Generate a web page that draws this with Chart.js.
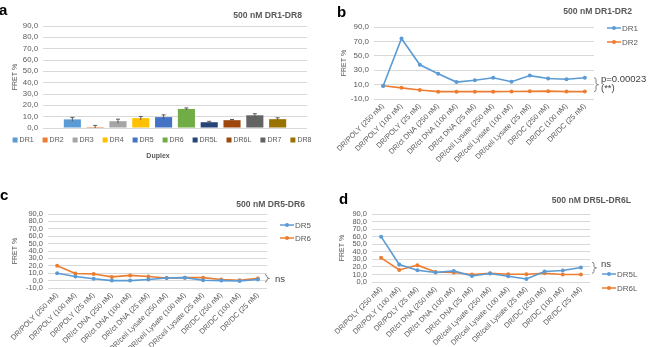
<!DOCTYPE html>
<html>
<head>
<meta charset="utf-8">
<script src="https://cdn.jsdelivr.net/npm/chart.js@4.4.0/dist/chart.umd.min.js"></script>
<style>
  body { margin: 0; background: #fff; font-family: "Liberation Sans", Arial, sans-serif; }
  #wrap { position: relative; width: 648px; height: 347px; overflow: hidden; }
  canvas { position: absolute; }
  .letter { position: absolute; font-weight: bold; font-size: 15px; line-height: 1; color: #000; }
  .title { position: absolute; font-weight: bold; font-size: 8.6px; line-height: 1; color: #595959; white-space: nowrap; }
  .note { position: absolute; font-size: 9.5px; line-height: 1; color: #404040; white-space: nowrap; }
</style>
</head>
<body>
<div id="wrap">
  <canvas id="chartA" width="324" height="175" style="left:0;top:0"></canvas>
  <canvas id="chartB" width="324" height="175" style="left:324px;top:0"></canvas>
  <canvas id="chartC" width="324" height="172" style="left:0;top:175px"></canvas>
  <canvas id="chartD" width="324" height="172" style="left:324px;top:175px"></canvas>

  <div class="letter" style="left:-1px;top:2px">a</div>
  <div class="letter" style="left:337px;top:4px">b</div>
  <div class="letter" style="left:0;top:187px">c</div>
  <div class="letter" style="left:339px;top:191px">d</div>

  <div class="title" style="right:346px;top:11px">500 nM DR1-DR8</div>
  <div class="title" style="right:16px;top:7px">500 nM DR1-DR2</div>
  <div class="title" style="right:343px;top:200px">500 nM DR5-DR6</div>
  <div class="title" style="right:17px;top:196px">500 nM DR5L-DR6L</div>

  <div class="title" style="left:128px;width:60px;text-align:center;top:152px;font-size:7px">Duplex</div>

  <div class="note" style="left:601px;top:74px">p=0.00023</div>
  <div class="note" style="left:601px;top:83px">(**)</div>
  <div class="note" style="left:275px;top:274px">ns</div>
  <div class="note" style="left:601px;top:259px">ns</div>
</div>

<script>
// panel a : FRET % of each duplex
const duplexNames = ["DR1", "DR2", "DR3", "DR4", "DR5", "DR6", "DR5L", "DR6L", "DR7", "DR8"];
const duplexFret = [7.6, 0.9, 6.0, 8.7, 9.6, 16.8, 5.1, 6.9, 11.2, 7.8];
const duplexErr = [1.8, 1.4, 1.8, 1.5, 2.0, 0.9, 0.8, 0.6, 1.4, 1.2];
const duplexColors = ["#5B9BD5", "#ED7D31", "#A5A5A5", "#FFC000", "#4472C4", "#70AD47", "#264478", "#9E480E", "#636363", "#997300"];

// categories of panels b, c, d
const conditions = [
  "DR/POLY (250 nM)", "DR/POLY (100 nM)", "DR/POLY (25 nM)",
  "DR/ct DNA (250 nM)", "DR/ct DNA (100 nM)", "DR/ct DNA (25 nM)",
  "DR/cell Lysate (250 nM)", "DR/cell Lysate (100 nM)", "DR/cell Lysate (25 nM)",
  "DR/DC (250 nM)", "DR/DC (100 nM)", "DR/DC (25 nM)"
];

// panel b
const fretDR1 = [8.0, 74.0, 37.5, 25.0, 13.5, 16.0, 19.5, 14.0, 22.5, 18.5, 17.5, 19.5];
const fretDR2 = [8.5, 5.5, 2.5, 0.2, 0.2, 0.2, 0.2, 0.4, 0.6, 0.9, 0.3, 0.3];
const bracketB = [19.5, 0.3];

// panel c
const fretDR5 = [10.0, 5.5, 2.5, 0.0, 0.0, 1.5, 3.5, 4.0, 0.5, 0.0, -0.5, 1.5];
const fretDR6 = [20.0, 9.5, 9.0, 5.0, 7.0, 5.5, 3.5, 4.0, 4.0, 1.5, 0.5, 3.0];
const bracketC = [8.0, -2.0];

// panel d
const fretDR5L = [60.0, 23.2, 15.6, 12.5, 14.7, 8.0, 11.2, 7.6, 4.0, 13.9, 15.2, 19.2];
const fretDR6L = [32.0, 16.0, 22.3, 13.3, 12.5, 9.9, 11.6, 10.3, 10.3, 11.6, 9.9, 9.9];
const bracketD = [26.0, 11.5];

const blue = "#5B9BD5";
const orange = "#ED7D31";
const textGray = "#595959";
const gridGray = "#D9D9D9";

Chart.defaults.font.family = '"Liberation Sans", Arial, sans-serif';
Chart.defaults.color = textGray;

function fmtTick(v) {
  return v.toFixed(1).replace(".", ",");
}

// error bars on the bar chart
const errorBars = {
  id: "errorBars",
  afterDatasetsDraw(chart, args, opts) {
    if (!opts.errors) return;
    const ctx = chart.ctx;
    const y = chart.scales.y;
    ctx.save();
    ctx.strokeStyle = "#595959";
    ctx.lineWidth = 1;
    chart.data.datasets.forEach((ds, i) => {
      const bar = chart.getDatasetMeta(i).data[0];
      const v = ds.data[0];
      const e = opts.errors[i];
      const yTop = y.getPixelForValue(v + e);
      const yBot = y.getPixelForValue(Math.max(0, v - e));
      ctx.beginPath();
      ctx.moveTo(bar.x, yTop);
      ctx.lineTo(bar.x, yBot);
      ctx.moveTo(bar.x - 2, yTop);
      ctx.lineTo(bar.x + 2, yTop);
      ctx.stroke();
    });
    ctx.restore();
  }
};

// square legend under the bar chart
const boxLegend = {
  id: "boxLegend",
  afterDraw(chart, args, opts) {
    if (!opts.y) return;
    const ctx = chart.ctx;
    ctx.save();
    ctx.font = "7px " + Chart.defaults.font.family;
    ctx.textBaseline = "middle";
    const items = chart.data.datasets.map((ds) => ({
      label: ds.label,
      color: ds.backgroundColor,
      w: 5 + 2 + ctx.measureText(ds.label).width
    }));
    const total = items.reduce((s, it) => s + it.w, 0) + opts.gap * (items.length - 1);
    let x = opts.centerX - total / 2;
    items.forEach((it) => {
      ctx.fillStyle = it.color;
      ctx.fillRect(x, opts.y - 2.5, 5, 5);
      ctx.fillStyle = textGray;
      ctx.fillText(it.label, x + 7, opts.y + 0.5);
      x += it.w + opts.gap;
    });
    ctx.restore();
  }
};

// line + marker legend to the right of the line charts
const lineLegend = {
  id: "lineLegend",
  afterDraw(chart, args, opts) {
    if (!opts.x) return;
    const ctx = chart.ctx;
    ctx.save();
    ctx.font = "8px " + Chart.defaults.font.family;
    ctx.textBaseline = "middle";
    chart.data.datasets.forEach((ds, i) => {
      const y = opts.y + i * opts.gap;
      ctx.strokeStyle = ds.borderColor;
      ctx.lineWidth = 1.5;
      ctx.beginPath();
      ctx.moveTo(opts.x, y);
      ctx.lineTo(opts.x + 14, y);
      ctx.stroke();
      ctx.fillStyle = ds.borderColor;
      ctx.beginPath();
      ctx.arc(opts.x + 7, y, 2, 0, Math.PI * 2);
      ctx.fill();
      ctx.fillStyle = textGray;
      ctx.fillText(ds.label, opts.x + 15, y + 0.5);
    });
    ctx.restore();
  }
};

// curly bracket next to the last points
const sideBracket = {
  id: "sideBracket",
  afterDraw(chart, args, opts) {
    if (!opts.range) return;
    const ctx = chart.ctx;
    const y = chart.scales.y;
    const x0 = chart.chartArea.right + opts.dx;
    const y1 = y.getPixelForValue(opts.range[0]);
    const y2 = y.getPixelForValue(opts.range[1]);
    const ym = (y1 + y2) / 2;
    ctx.save();
    ctx.strokeStyle = "#7F7F7F";
    ctx.lineWidth = 1;
    ctx.beginPath();
    ctx.moveTo(x0, y1);
    ctx.quadraticCurveTo(x0 + 2, y1, x0 + 2, y1 + 2);
    ctx.lineTo(x0 + 2, ym - 1.5);
    ctx.quadraticCurveTo(x0 + 2, ym, x0 + 4.5, ym);
    ctx.quadraticCurveTo(x0 + 2, ym, x0 + 2, ym + 1.5);
    ctx.lineTo(x0 + 2, y2 - 2);
    ctx.quadraticCurveTo(x0 + 2, y2, x0, y2);
    ctx.stroke();
    ctx.restore();
  }
};

function yAxis(min, max, step, width, titlePad, fontSize) {
  return {
    min: min,
    max: max,
    ticks: { stepSize: step, autoSkip: false, callback: fmtTick, font: { size: fontSize }, color: textGray, padding: 5 },
    grid: { color: gridGray, lineWidth: 1, drawTicks: false },
    border: { display: false },
    title: { display: true, text: "FRET %", font: { size: 7 }, color: textGray, padding: { top: titlePad, bottom: 0 } },
    afterFit: (scale) => { scale.width = width; }
  };
}

function xAxis(height) {
  return {
    offset: true,
    ticks: { autoSkip: false, minRotation: 45, maxRotation: 45, font: { size: 7.4 }, color: textGray, padding: 3 },
    grid: { display: false, drawTicks: false },
    border: { display: false },
    afterFit: (scale) => { scale.height = height; }
  };
}

function lineSet(label, data, color) {
  return {
    label: label,
    data: data,
    borderColor: color,
    backgroundColor: color,
    borderWidth: 1.6,
    pointRadius: 2,
    pointBorderWidth: 0,
    pointBackgroundColor: color,
    tension: 0
  };
}

function createLineChart(id, sets, yOpts, pad, xHeight, legendOpts, bracket) {
  return new Chart(document.getElementById(id), {
    type: "line",
    data: { labels: conditions, datasets: sets },
    options: {
      responsive: false,
      animation: false,
      layout: { padding: pad },
      scales: { x: xAxis(xHeight), y: yOpts },
      plugins: {
        legend: { display: false },
        tooltip: { enabled: false },
        lineLegend: legendOpts,
        sideBracket: bracket
      }
    },
    plugins: [lineLegend, sideBracket]
  });
}

function createCharts() {
  // panel a
  new Chart(document.getElementById("chartA"), {
    type: "bar",
    data: {
      labels: [""],
      datasets: duplexNames.map((name, i) => ({
        label: name,
        data: [duplexFret[i]],
        backgroundColor: duplexColors[i],
        barPercentage: 0.75,
        categoryPercentage: 0.864
      }))
    },
    options: {
      responsive: false,
      animation: false,
      layout: { padding: { left: 0, top: 26, right: 17, bottom: 47 } },
      scales: {
        x: { display: false },
        y: yAxis(0, 90, 10, 43, 11, 7.8)
      },
      plugins: {
        legend: { display: false },
        tooltip: { enabled: false },
        errorBars: { errors: duplexErr },
        boxLegend: { centerX: 162, y: 140, gap: 9 }
      }
    },
    plugins: [errorBars, boxLegend]
  });

  // panel b
  createLineChart("chartB",
    [lineSet("DR1", fretDR1, blue), lineSet("DR2", fretDR2, orange)],
    yAxis(-10, 90, 20, 50, 16, 8),
    { left: 0, top: 27, right: 54, bottom: 0 }, 76,
    { x: 283, y: 28, gap: 14 },
    { range: bracketB, dx: 0 });

  // panel c
  createLineChart("chartC",
    [lineSet("DR5", fretDR5, blue), lineSet("DR6", fretDR6, orange)],
    yAxis(-10, 90, 10, 48, 11, 7.5),
    { left: 0, top: 39, right: 57, bottom: 0 }, 59,
    { x: 280, y: 50, gap: 13 },
    { range: bracketC, dx: -2 });

  // panel d
  createLineChart("chartD",
    [lineSet("DR5L", fretDR5L, blue), lineSet("DR6L", fretDR6L, orange)],
    yAxis(0, 90, 10, 48, 14, 7.5),
    { left: 0, top: 39, right: 58, bottom: 0 }, 65,
    { x: 278, y: 99, gap: 14 },
    { range: bracketD, dx: 2 });
}

createCharts();
</script>
</body>
</html>
